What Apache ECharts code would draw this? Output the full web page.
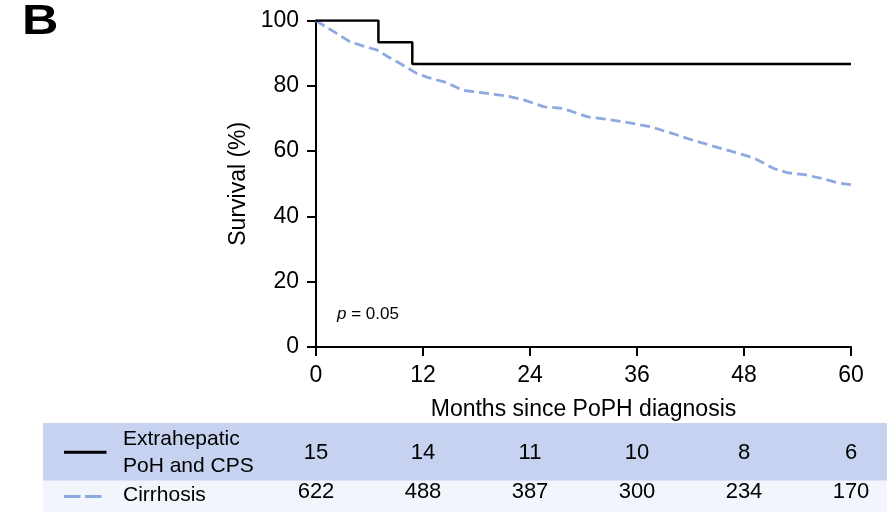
<!DOCTYPE html>
<html>
<head>
<meta charset="utf-8">
<script src="https://cdn.jsdelivr.net/npm/echarts@6/dist/echarts.min.js"></script>
<style>
html,body{margin:0;padding:0;background:#fff;}
#c{width:887px;height:512px;}
</style>
</head>
<body>
<div id="c"></div>
<script>
// ---- data ----
var xTicks = [0, 12, 24, 36, 48, 60];
var extraMonths = [0, 7, 10.8, 60];
var extraSurvival = [100, 93.33, 86.67, 86.67];
var cirrMonths = [0, 1, 2, 3.8, 5.5, 6.8, 8, 9.4, 11.3, 12.5, 14.6, 16.5, 19.2, 21.5, 23.4, 25.5, 27.6, 30.5, 32.5, 34.7, 37.6, 40.1, 42.3, 44.3, 46.5, 48.5, 49.3, 51.4, 53, 54.8, 56.9, 58.5, 60];
var cirrSurvival = [100, 98.2, 96.6, 93.5, 92.0, 91.0, 89.0, 86.9, 83.8, 82.6, 81.0, 78.6, 77.7, 76.8, 75.6, 73.6, 73.1, 70.5, 69.8, 68.9, 67.4, 65.3, 63.3, 61.7, 60.0, 58.4, 57.6, 54.6, 53.3, 52.8, 51.5, 50.3, 49.7];
var groupNames = ['Extrahepatic\nPoH and CPS', 'Cirrhosis'];
var atRiskExtra = [15, 14, 11, 10, 8, 6];
var atRiskCirr = [622, 488, 387, 300, 234, 170];
var pText = '0.05';

var FONT = "'Liberation Sans', Arial, Helvetica, sans-serif";
var BLUE = '#8ea9e0';

function zip(xs, ys) { return xs.map(function (x, i) { return [x, ys[i]]; }); }
var riskData = [];
xTicks.forEach(function (m, i) {
  riskData.push([m, groupNames[0], atRiskExtra[i]]);
  riskData.push([m, groupNames[1], atRiskCirr[i]]);
});

var chart = echarts.init(document.getElementById('c'), null, {renderer: 'canvas'});
var option = {
  animation: false,
  backgroundColor: '#fff',
  textStyle: {fontFamily: FONT, color: '#000'},
  grid: [
    {left: 316, top: 20.5, width: 535, height: 326.5},
    {left: 316, top: 433, width: 535, height: 85}
  ],
  xAxis: [{
    gridIndex: 0, type: 'value', min: 0, max: 60, interval: 12,
    name: 'Months since PoPH diagnosis', nameLocation: 'middle', nameGap: 51,
    nameTextStyle: {fontSize: 23, color: '#000', fontFamily: FONT},
    axisLine: {lineStyle: {color: '#000', width: 2}},
    axisTick: {show: true, inside: false, length: 9, lineStyle: {color: '#000', width: 2}},
    axisLabel: {fontSize: 23, color: '#000', margin: 17, fontFamily: FONT},
    splitLine: {show: false}
  }, {
    gridIndex: 1, type: 'value', min: 0, max: 60, show: false
  }],
  yAxis: [{
    gridIndex: 0, type: 'value', min: 0, max: 100, interval: 20,
    name: 'Survival (%)', nameLocation: 'middle', nameGap: 66, nameRotate: 90,
    nameTextStyle: {fontSize: 23, color: '#000', fontFamily: FONT},
    axisLine: {show: true, lineStyle: {color: '#000', width: 2}},
    axisTick: {show: true, inside: false, length: 9, lineStyle: {color: '#000', width: 2}},
    axisLabel: {fontSize: 23, color: '#000', margin: 17, fontFamily: FONT},
    splitLine: {show: false}
  }, {
    gridIndex: 1, type: 'category', data: groupNames, inverse: true, show: false
  }],
  graphic: [
    {type: 'rect', z: -10, shape: {x: 43, y: 423, width: 844, height: 57.7}, style: {fill: '#c7d2f0'}},
    {type: 'rect', z: -10, shape: {x: 43, y: 480.7, width: 844, height: 32}, style: {fill: '#f2f5fc'}},
    {type: 'line', shape: {x1: 64, y1: 452.3, x2: 106.5, y2: 452.3}, style: {stroke: '#000', lineWidth: 3}},
    {type: 'line', shape: {x1: 64, y1: 496.5, x2: 102, y2: 496.5}, style: {stroke: BLUE, lineWidth: 3, lineDash: [16.5, 4.5]}},
    {type: 'text', left: 123, top: 426, style: {text: groupNames[0], font: '21px ' + FONT, fill: '#000', lineHeight: 27}},
    {type: 'text', left: 123, top: 483, style: {text: groupNames[1], font: '21px ' + FONT, fill: '#000', lineHeight: 24}},
    {type: 'text', x: 22, y: 1, scaleX: 1.2, style: {text: 'B', font: 'bold 42px ' + FONT, fill: '#000'}},
    {type: 'text', left: 337, top: 306, style: {
      text: '{i|p} = ' + pText,
      rich: {i: {fontStyle: 'italic', fontSize: 17, fontFamily: FONT, fill: '#000'}},
      font: '17px ' + FONT, fill: '#000'
    }}
  ],
  series: [{
    name: 'Extrahepatic PoH and CPS', type: 'line', xAxisIndex: 0, yAxisIndex: 0,
    data: zip(extraMonths, extraSurvival), step: 'end', showSymbol: false, symbol: 'none',
    lineStyle: {color: '#000', width: 2.5}, z: 3
  }, {
    name: 'Cirrhosis', type: 'line', xAxisIndex: 0, yAxisIndex: 0,
    data: zip(cirrMonths, cirrSurvival), showSymbol: false, symbol: 'none',
    lineStyle: {color: BLUE, width: 2.8, type: [10, 5]}, z: 2
  }, {
    type: 'scatter', xAxisIndex: 1, yAxisIndex: 1, symbolSize: 0, silent: true,
    itemStyle: {opacity: 1},
    data: riskData,
    label: {show: true, position: 'inside', formatter: function (p) { return String(p.value[2]); },
      fontSize: 22, color: '#000', opacity: 1, fontFamily: FONT}
  }]
};
chart.setOption(option);
</script>
</body>
</html>
